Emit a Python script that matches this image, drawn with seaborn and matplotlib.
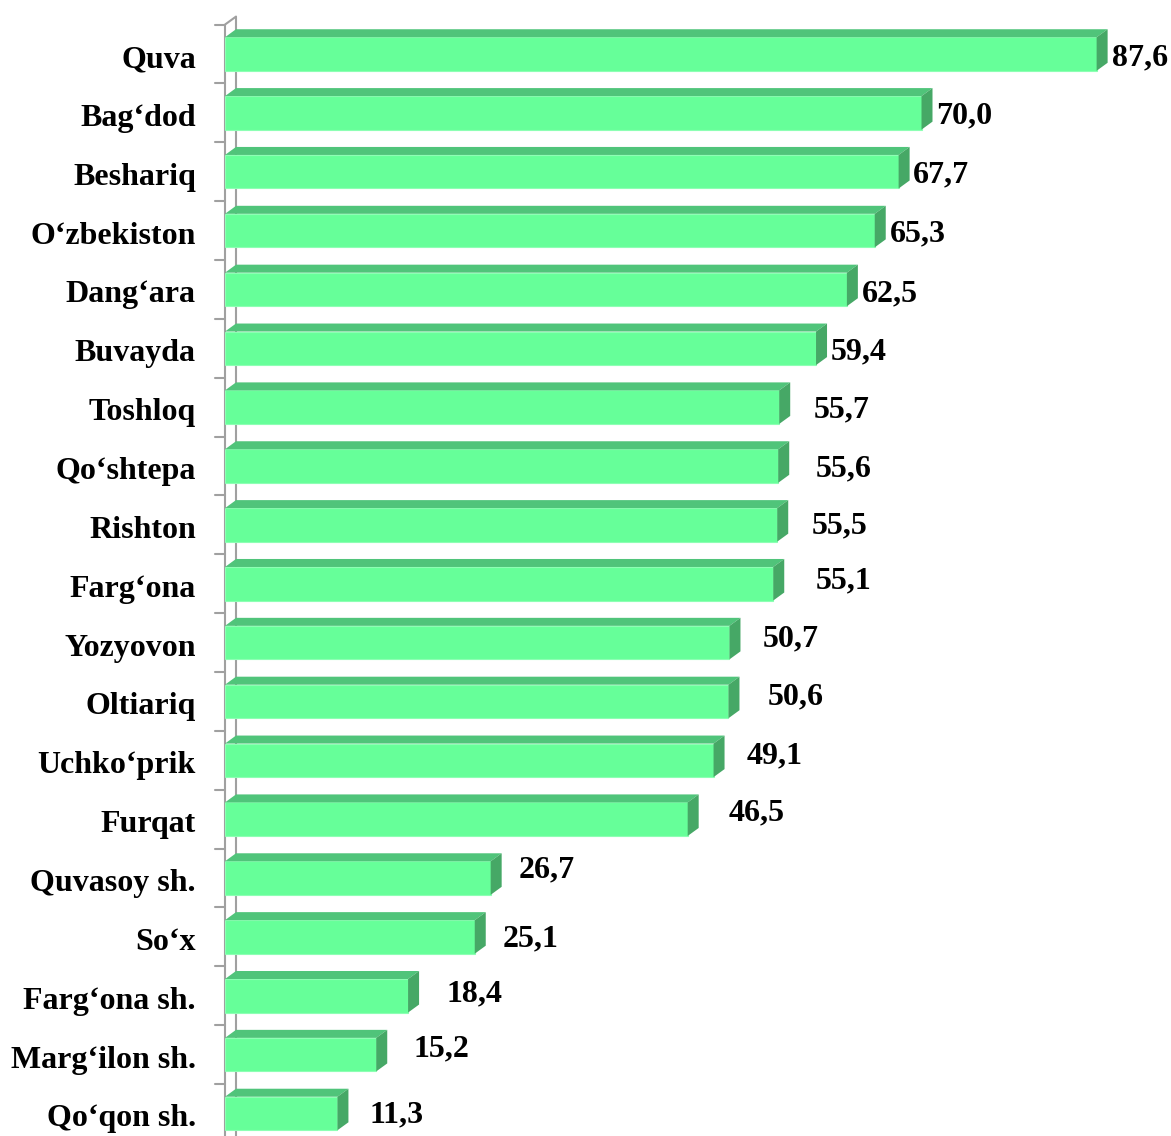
import matplotlib
matplotlib.use("Agg")
import matplotlib.pyplot as plt
import matplotlib.transforms as mtransforms
from matplotlib.patches import Polygon
import seaborn as sns

# Districts and their values (%)
districts = [
    "Quva", "Bag‘dod", "Beshariq", "O‘zbekiston", "Dang‘ara", "Buvayda",
    "Toshloq", "Qo‘shtepa", "Rishton", "Farg‘ona", "Yozyovon", "Oltiariq",
    "Uchko‘prik", "Furqat", "Quvasoy sh.", "So‘x", "Farg‘ona sh.",
    "Marg‘ilon sh.", "Qo‘qon sh.",
]
values = [87.6, 70.0, 67.7, 65.3, 62.5, 59.4, 55.7, 55.6, 55.5, 55.1,
          50.7, 50.6, 49.1, 46.5, 26.7, 25.1, 18.4, 15.2, 11.3]

# Hand-placed offsets of the value labels (pixels: right of bar, down)
label_dx = [4, 4, 3, 4, 4, 4, 23, 26, 23, 31, 22, 28, 22, 30, 17, 17, 27, 26, 21]
label_dy = [4, 3, 3, 3, 4, 4, 3, 3, 1, -3, -4, -5, -4, -6, -8, 2, -2, -6, 1]

FRONT = "#66FF99"
TOP = "#50C47A"
SIDE = "#46A866"
WALL = "#A0A0A0"
FS = 23

sns.set_style("white")
plt.rcParams["font.family"] = ["Liberation Serif", "DejaVu Serif"]
plt.rcParams["font.weight"] = "bold"
plt.rcParams["text.color"] = "black"
plt.rcParams["ytick.color"] = "black"

fig = plt.figure(figsize=(11.71, 11.36), dpi=100)
ax = fig.add_axes([225 / 1171, 0, 946 / 1171, 1])

sns.barplot(x=values, y=districts, orient="h", color=FRONT, saturation=1,
            width=0.57, edgecolor="#8DFFB4", linewidth=0.8, ax=ax, zorder=3)

PX_X = 9.95    # pixels per value unit
PX_Y = 58.86   # pixels per category
DX = 11 / PX_X
DY = 8 / PX_Y

ax.set_xlim(0, 946 / PX_X)
ax.set_ylim(18 + (1136 - 1113.5) / PX_Y, -54 / PX_Y)
bottom = ax.get_ylim()[0]

# 3D faces of every bar
for p in list(ax.patches):
    x0, y0, w, h = p.get_x(), p.get_y(), p.get_width(), p.get_height()
    top = Polygon([(x0, y0), (x0 + w, y0), (x0 + w + DX, y0 - DY), (x0 + DX, y0 - DY)],
                  closed=True, facecolor=TOP, edgecolor="none", zorder=3)
    side = Polygon([(x0 + w, y0), (x0 + w, y0 + h), (x0 + w + DX, y0 + h - DY),
                    (x0 + w + DX, y0 - DY)],
                   closed=True, facecolor=SIDE, edgecolor="none", zorder=3)
    ax.add_patch(top)
    ax.add_patch(side)

# Category axis wall
lw = 1.5
ax.plot([0, 0], [-0.5, bottom], color=WALL, lw=lw, zorder=1, clip_on=False)
ax.plot([DX, DX], [-0.5 - DY, bottom], color=WALL, lw=lw, zorder=1, clip_on=False)
ax.plot([0, DX], [-0.5, -0.5 - DY], color=WALL, lw=lw, zorder=1, clip_on=False)
for i in range(len(districts) + 1):
    ax.plot([-10 / PX_X, 0], [i - 0.5, i - 0.5], color=WALL, lw=lw,
            zorder=1, clip_on=False)

# Value labels
for i, v in enumerate(values):
    ax.annotate(f"{v:.1f}".replace(".", ","), xy=(v + DX, i),
                xytext=(label_dx[i], -label_dy[i]), textcoords="offset pixels",
                ha="left", va="center", fontsize=FS, fontweight="bold",
                color="black", annotation_clip=False)

for s in ax.spines.values():
    s.set_visible(False)
ax.set_xticks([])
ax.set_xlabel("")
ax.set_ylabel("")
ax.tick_params(axis="y", length=0, pad=21, labelsize=FS, labelcolor="black")
shift = mtransforms.ScaledTranslation(0, -2 / 100, fig.dpi_scale_trans)
for lbl in ax.get_yticklabels():
    lbl.set_fontweight("bold")
    lbl.set_color("black")
    lbl.set_transform(lbl.get_transform() + shift)

fig.savefig("out.png", dpi=100, facecolor="white")
